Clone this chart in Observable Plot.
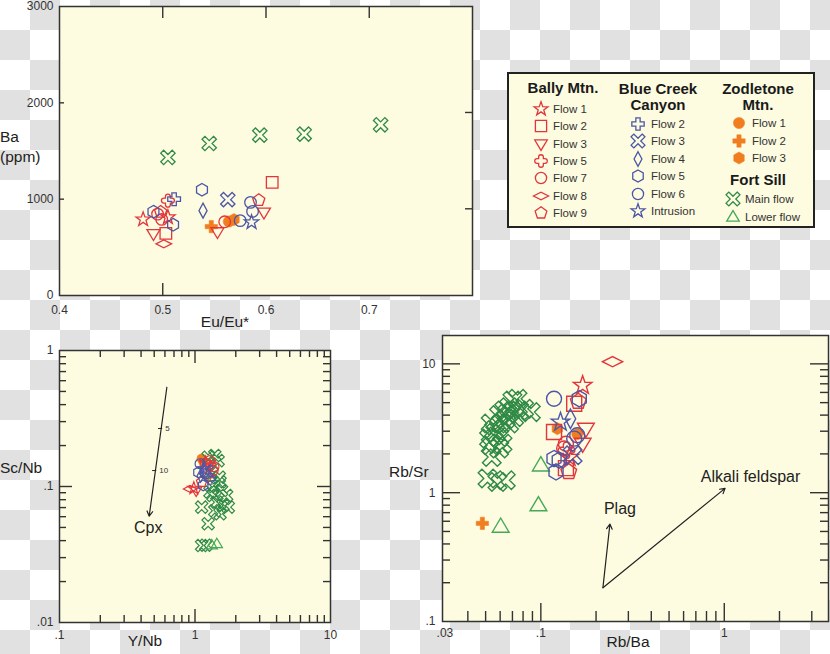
<!DOCTYPE html>
<html><head><meta charset="utf-8">
<script src="https://cdn.jsdelivr.net/npm/d3@7"></script>
<script src="https://cdn.jsdelivr.net/npm/@observablehq/plot@0.6"></script>
<style>
html,body{margin:0;padding:0;}
body{width:830px;height:654px;position:relative;overflow:hidden;font-family:"Liberation Sans",Arial,sans-serif;
background-color:#fff;
background-image:conic-gradient(#e1e1e1 25%, #ffffff 0 50%, #e1e1e1 0 75%, #ffffff 0);
background-size:60px 60px;}
.abs{position:absolute;}
.t{position:absolute;white-space:nowrap;color:#222;font-size:15.5px;line-height:18px;}
.c{transform:translate(-50%,-50%);}
.lh{position:absolute;white-space:nowrap;font-weight:bold;font-size:15px;line-height:15.5px;color:#1a1a1a;text-align:center;transform:translate(-50%,-50%);}
.ll{position:absolute;white-space:nowrap;font-size:11.5px;color:#333;transform:translateY(-50%);}
</style></head>
<body>
<script>
// ---------- groups / legend ----------
const groups      = ["B1","B2","B3","B5","B7","B8","B9","C2","C3","C4","C5","C6","CI","Z1","Z2","Z3","FM","FL"];
const groupLabels = ["Flow 1","Flow 2","Flow 3","Flow 5","Flow 7","Flow 8","Flow 9","Flow 2","Flow 3","Flow 4","Flow 5","Flow 6","Intrusion","Flow 1","Flow 2","Flow 3","Main flow","Lower flow"];
const groupColors = ["#e2363c","#e2363c","#e2363c","#e2363c","#e2363c","#e2363c","#e2363c",
                     "#4b57a6","#4b57a6","#4b57a6","#4b57a6","#4b57a6","#4b57a6",
                     "#f07d1e","#f07d1e","#f07d1e","#2f8a46","#44aa55"];
const groupShapes = ["star","square","triDown","clover","circle","diamondWide","pentagon",
                     "plus","xcross","diamondTall","hexagon","circle","star",
                     "circle","plus","hexagon","xcross","triUp"];
const filledGroups = ["Z1","Z2","Z3"];
const legendTitles = ["Bally Mtn.", "Blue Creek\nCanyon", "Zodletone\nMtn.", "Fort Sill"];

// ---------- panel 1: Eu/Eu* vs Ba (ppm) ----------
const euDomain = [0.4,0.8];
const baDomain = [0,3000];
const euTicks = [0.4,0.5,0.6,0.7];
const baTicks = [0,1000,2000,3000];
const euBa = [
  ["FM",0.505,1433],["FM",0.545,1578],["FM",0.594,1665],["FM",0.637,1675],["FM",0.711,1772],
  ["B2",0.606,1174],["B2",0.503,645],
  ["B1",0.481,790],["B1",0.505,812],
  ["B3",0.491,640],["B3",0.553,660],["B3",0.598,863],
  ["B5",0.505,985],
  ["B7",0.499,790],["B7",0.495,845],["B7",0.560,765],
  ["B8",0.501,536],
  ["B9",0.593,990],["B9",0.498,868],
  ["C2",0.511,1000],
  ["C3",0.563,995],
  ["C4",0.539,881],
  ["C5",0.538,1098],["C5",0.491,870],["C5",0.510,735],
  ["C6",0.585,967],["C6",0.587,873],["C6",0.575,777],
  ["CI",0.586,760],
  ["Z1",0.564,768],["Z3",0.569,788],["Z2",0.547,715]
];
const p1TopTicks = [0.5,0.6,0.7];
const p1BottomTicks = [0.5];
const p1LeftTicks = [1000,2000];
const p1RightTicks = [900,1900];

// ---------- panel 2: Y/Nb vs Sc/Nb ----------
const ynbDomain = [0.1,10];
const scnbDomain = [0.01,1];
const ynbTicks = [0.1,1,10];
const ynbTickLabels = [".1","1","10"];
const scnbTicks = [0.01,0.1,1];
const scnbTickLabels = [".01",".1","1"];
const ynbScnb = [
  ["FM",1.40,0.169],["FM",1.25,0.164],["FM",1.48,0.155],["FM",1.51,0.117],["FM",1.53,0.108],
  ["FM",1.57,0.0935],["FM",1.71,0.0859],["FM",1.36,0.0859],["FM",1.29,0.091],["FM",1.45,0.0767],
  ["FM",1.61,0.0725],["FM",1.76,0.0705],["FM",1.53,0.063],["FM",1.40,0.0664],["FM",1.12,0.0705],
  ["FM",1.25,0.0532],["FM",1.12,0.0368],["FM",1.20,0.037],["FM",1.38,0.100],["FM",1.33,0.125],
  ["FL",1.33,0.037],["FL",1.45,0.0378],
  ["B8",0.92,0.096],
  ["B1",0.98,0.097],["B1",1.20,0.150],
  ["B3",1.02,0.093],["B3",1.30,0.140],
  ["B7",1.36,0.131],["B7",1.29,0.155],["B7",1.38,0.140],
  ["B2",1.19,0.147],
  ["B9",1.12,0.108],
  ["B5",1.25,0.120],
  ["C5",1.06,0.127],["C5",1.15,0.102],
  ["C6",1.09,0.147],["C6",1.19,0.124],
  ["C2",1.29,0.114],
  ["C3",1.22,0.130],
  ["C4",1.10,0.120],
  ["CI",1.15,0.135],
  ["Z1",1.12,0.160],["Z3",1.16,0.153]
];
const p2MinorX = [0.2,0.3,0.4,0.5,0.6,0.7,0.8,0.9,2,3,4,5,6,7,8,9];
const p2MajorX = [1];
const p2MinorY = [0.02,0.03,0.04,0.05,0.06,0.07,0.08,0.09,0.2,0.3,0.4,0.5,0.6,0.7,0.8,0.9];
const p2MajorY = [0.1];
const cpxArrow = [{x1:0.620, y1:0.537, x2:0.459, y2:0.0605}];
const cpxMarks = [{x:0.553, y:0.267, label:"5"},{x:0.500, y:0.131, label:"10"}];
const cpxLabel = [{x:0.451, y:0.050, label:"Cpx"}];

// ---------- panel 3: Rb/Ba vs Rb/Sr ----------
const rbbaDomain = [0.0291,3.7];
const rbsrDomain = [0.1,16.6];
const rbbaTicks = [0.03,0.1,1];
const rbbaTickLabels = [".03",".1","1"];
const rbsrTicks = [0.1,1,10];
const rbsrTickLabels = [".1","1","10"];
const rbbaRbsr = [
  ["FM",0.0746,5.36],["FM",0.0882,4.22],["FM",0.0810,4.48],["FM",0.0671,4.61],["FM",0.0631,4.35],
  ["FM",0.0715,3.86],["FM",0.0644,3.75],["FM",0.0592,4.00],["FM",0.0605,3.44],["FM",0.0533,3.44],
  ["FM",0.0556,3.05],["FM",0.0522,2.63],["FM",0.0592,2.70],["FM",0.0533,2.33],["FM",0.0592,2.20],
  ["FM",0.0540,1.89],["FM",0.0671,3.44],["FM",0.0761,4.35],["FM",0.0700,5.20],["FM",0.0618,2.40],
  ["FM",0.0565,2.90],["FM",0.0655,4.10],["FM",0.0512,1.29],["FM",0.0580,1.21],["FM",0.0644,1.25],
  ["FL",0.100,1.63],["FL",0.097,0.80],["FL",0.0604,0.545],
  ["B8",0.246,10.4],
  ["B1",0.169,6.8],["B1",0.143,1.88],
  ["B2",0.152,4.9],["B2",0.118,2.96],["B2",0.137,1.55],
  ["B3",0.176,3.14],["B3",0.169,2.40],
  ["B5",0.138,2.13],
  ["B7",0.137,2.40],["B7",0.134,2.20],
  ["B9",0.142,1.45],["B9",0.160,5.1],
  ["C6",0.118,5.36],["C6",0.158,2.79],["C6",0.152,2.63],
  ["C5",0.162,5.36],["C5",0.118,1.84],["C5",0.126,1.79],["C5",0.121,1.45],
  ["CI",0.128,3.53],
  ["C4",0.145,3.75],
  ["C3",0.149,1.95],
  ["Z2",0.048,0.578],["Z3",0.123,3.14],["Z1",0.158,2.85]
];
const p3MinorX = [0.04,0.05,0.06,0.07,0.08,0.09,0.2,0.3,0.4,0.5,0.6,0.7,0.8,0.9,2,3];
const p3MajorX = [0.1,1];
const p3MinorY = [0.2,0.3,0.4,0.5,0.6,0.7,0.8,0.9,2,3,4,5,6,7,8,9];
const p3MajorY = [1,10];
const feldArrows = [{x1:0.218, y1:0.183, x2:0.238, y2:0.571},{x1:0.218, y1:0.183, x2:1.01, y2:1.08}];
const feldLabels = [{x:0.27, y:0.745, label:"Plag"},{x:1.39, y:1.32, label:"Alkali feldspar"}];

// ---------- symbols ----------
function poly(pts){ return {draw(ctx,size){ const r=Math.sqrt(size/Math.PI);
  ctx.moveTo(pts[0][0]*r,pts[0][1]*r); for(let i=1;i<pts.length;i++) ctx.lineTo(pts[i][0]*r,pts[i][1]*r); ctx.closePath(); }}; }
function regular(n,R,rot){ const p=[]; for(let k=0;k<n;k++){const a=rot+2*Math.PI*k/n; p.push([R*Math.cos(a),R*Math.sin(a)]);} return p; }
function starPts(R,ri){ const p=[]; for(let k=0;k<10;k++){const a=-Math.PI/2+Math.PI*k/5; const rr=k%2?ri:R; p.push([rr*Math.cos(a),rr*Math.sin(a)]);} return p; }
function plusPts(a,R){ return [[-a,-R],[a,-R],[a,-a],[R,-a],[R,a],[a,a],[a,R],[-a,R],[-a,a],[-R,a],[-R,-a],[-a,-a]]; }
function rot45(pts){ const c=Math.SQRT1_2; return pts.map(([x,y])=>[c*(x-y),c*(x+y)]); }
const SYM = {
  circle:{draw(ctx,size){const r=Math.sqrt(size/Math.PI); ctx.moveTo(r,0); ctx.arc(0,0,r,0,2*Math.PI);}},
  square:poly([[-1,-1],[1,-1],[1,1],[-1,1]]),
  triDown:poly([[-1.12,-0.72],[1.12,-0.72],[0,1.15]]),
  triUp:poly([[0,-1.15],[1.12,0.75],[-1.12,0.75]]),
  star:poly(starPts(1.3,0.52)),
  pentagon:poly(regular(5,1.1,-Math.PI/2)),
  hexagon:poly(regular(6,1.08,-Math.PI/2)),
  diamondWide:poly([[-1.35,0],[0,-0.68],[1.35,0],[0,0.68]]),
  diamondTall:poly([[0,-1.3],[0.7,0],[0,1.3],[-0.7,0]]),
  plus:poly(plusPts(0.38,1.1)),
  xcross:poly(rot45(plusPts(0.35,1.4))),
  clover:{draw(ctx,size){const r=Math.sqrt(size/Math.PI); const a=0.42*r, R=1.12*r, P=Math.PI;
    ctx.moveTo(-a,-a); ctx.lineTo(-a,-R+a); ctx.arc(0,-R+a,a,P,2*P); ctx.lineTo(a,-a);
    ctx.lineTo(R-a,-a); ctx.arc(R-a,0,a,-P/2,P/2); ctx.lineTo(a,a);
    ctx.lineTo(a,R-a); ctx.arc(0,R-a,a,0,P); ctx.lineTo(-a,a);
    ctx.lineTo(-R+a,a); ctx.arc(-R+a,0,a,P/2,3*P/2); ctx.closePath();}}
};

const BG = "#fdfbe0", FRAME = "#333";
const pStyle = {background:"transparent", fontFamily:'"Liberation Sans", Arial, sans-serif', fontSize:"12px", color:"#333", overflow:"visible"};
const symbolScale = {domain:groups, range:groupShapes.map(s=>SYM[s])};
const colorScale = {domain:groups, range:groupColors};
const isFilled = d => filledGroups.includes(d[0]);

function pointMarks(data, r, sw, rf){
  return [
    Plot.dot(data.filter(isFilled), {x:d=>d[1], y:d=>d[2], symbol:d=>d[0], fill:d=>d[0], stroke:d=>d[0], strokeWidth:0.5, r:rf}),
    Plot.dot(data.filter(d=>!isFilled(d)), {x:d=>d[1], y:d=>d[2], symbol:d=>d[0], stroke:d=>d[0], fill:"none", r, strokeWidth:sw})
  ];
}
// short inward ticks: full-frame rules shrunk by insets; inner = inner frame size (px) across the rule
function edgeTicks(vals, side, len, inner){
  const o = {stroke:"#333333", strokeWidth:1.4};
  if (side==="top")    return Plot.ruleX(vals, {...o, x:d=>d, insetBottom:inner-len});
  if (side==="bottom") return Plot.ruleX(vals, {...o, x:d=>d, insetTop:inner-len});
  if (side==="left")   return Plot.ruleY(vals, {...o, y:d=>d, insetRight:inner-len});
  return Plot.ruleY(vals, {...o, y:d=>d, insetLeft:inner-len});
}
function place(node, left, top, z){ const div=document.createElement("div"); div.className="abs"; div.style.left=left+"px"; div.style.top=top+"px"; if(z) div.style.zIndex=z; div.appendChild(node); document.body.appendChild(div); }
function text(str, left, top, cls){ const d=document.createElement("div"); d.className=cls; d.style.left=left+"px"; d.style.top=top+"px"; d.textContent=str; document.body.appendChild(d); return d; }
// transparent overlay plot with the same scales, carrying only the edge ticks
function tickOverlay(dims, xScale, yScale, tickMarks){
  return Plot.plot({...dims, style:{background:"transparent", overflow:"visible"},
    x:{...xScale, axis:null}, y:{...yScale, axis:null}, marks:tickMarks});
}

// ---------- panel 1 ----------
const P1 = {width:480, height:330, marginLeft:59, marginRight:8, marginTop:6, marginBottom:35};
const p1W = P1.width-P1.marginLeft-P1.marginRight, p1H = P1.height-P1.marginTop-P1.marginBottom;
const p1 = Plot.plot({
  ...P1, style:pStyle,
  x:{domain:euDomain, ticks:euTicks, tickSize:0, tickPadding:10, tickFormat:d=>d.toFixed(1), label:null},
  y:{domain:baDomain, ticks:baTicks, tickSize:0, tickPadding:6, tickFormat:d=>String(d), label:null},
  symbol:symbolScale, color:colorScale,
  marks:[
    Plot.frame({fill:BG, stroke:"none"}),
    ...pointMarks(euBa, 5.8, 1.3, 5.6),
    Plot.frame({stroke:FRAME, strokeWidth:1.5, fill:"none"})
  ]
});
place(p1, 0, 0);
place(tickOverlay(P1, {domain:euDomain}, {domain:baDomain}, [
  edgeTicks(p1TopTicks,"top",12,p1H),
  edgeTicks(p1BottomTicks,"bottom",12,p1H),
  edgeTicks(p1LeftTicks,"left",5,p1W),
  edgeTicks(p1RightTicks,"right",7,p1W)
]), 0, 0, 5);

// ---------- panel 2 ----------
const P2 = {width:345, height:319, marginLeft:59, marginRight:15, marginTop:15, marginBottom:32};
const p2W = P2.width-P2.marginLeft-P2.marginRight, p2H = P2.height-P2.marginTop-P2.marginBottom;
const p2 = Plot.plot({
  ...P2, style:pStyle,
  x:{type:"log", domain:ynbDomain, ticks:ynbTicks, tickSize:0, tickPadding:8, tickFormat:d=>ynbTickLabels[ynbTicks.indexOf(d)], label:null},
  y:{type:"log", domain:scnbDomain, ticks:scnbTicks, tickSize:0, tickPadding:6, tickFormat:d=>scnbTickLabels[scnbTicks.indexOf(d)], label:null},
  symbol:symbolScale, color:colorScale,
  marks:[
    Plot.frame({fill:BG, stroke:"none"}),
    Plot.arrow(cpxArrow, {x1:"x1", y1:"y1", x2:"x2", y2:"y2", stroke:"#222", strokeWidth:1.2, headLength:7}),
    Plot.link(cpxMarks, {x1:d=>d.x*0.965, x2:d=>d.x*1.035, y1:"y", y2:"y", stroke:"#222", strokeWidth:1}),
    Plot.text(cpxMarks, {x:"x", y:"y", text:"label", dx:5, textAnchor:"start", fontSize:8, fill:"#333"}),
    Plot.text(cpxLabel, {x:"x", y:"y", text:"label", fontSize:16, fill:"#222"}),
    ...pointMarks(ynbScnb, 5, 1.2, 4.8),
    Plot.frame({stroke:FRAME, strokeWidth:1.5, fill:"none"})
  ]
});
place(p2, 0, 335);
place(tickOverlay(P2, {type:"log", domain:ynbDomain}, {type:"log", domain:scnbDomain}, [
  edgeTicks(p2MinorX,"top",7,p2H), edgeTicks(p2MajorX,"top",13,p2H),
  edgeTicks(p2MinorX,"bottom",7,p2H), edgeTicks(p2MajorX,"bottom",13,p2H),
  edgeTicks(p2MinorY,"left",7,p2W), edgeTicks(p2MajorY,"left",13,p2W),
  edgeTicks(p2MinorY,"right",7,p2W), edgeTicks(p2MajorY,"right",13,p2W)
]), 0, 335, 5);

// ---------- panel 3 ----------
const P3 = {width:450, height:329, marginLeft:62, marginRight:2, marginTop:10, marginBottom:33};
const p3W = P3.width-P3.marginLeft-P3.marginRight, p3H = P3.height-P3.marginTop-P3.marginBottom;
const p3 = Plot.plot({
  ...P3, style:pStyle,
  x:{type:"log", domain:rbbaDomain, ticks:rbbaTicks, tickSize:0, tickPadding:7, tickFormat:d=>rbbaTickLabels[rbbaTicks.indexOf(d)], label:null},
  y:{type:"log", domain:rbsrDomain, ticks:rbsrTicks, tickSize:0, tickPadding:7, tickFormat:d=>rbsrTickLabels[rbsrTicks.indexOf(d)], label:null},
  symbol:symbolScale, color:colorScale,
  marks:[
    Plot.frame({fill:BG, stroke:"none"}),
    Plot.arrow(feldArrows, {x1:"x1", y1:"y1", x2:"x2", y2:"y2", stroke:"#222", strokeWidth:1.2, headLength:7}),
    Plot.text(feldLabels, {x:"x", y:"y", text:"label", fontSize:16, fill:"#222"}),
    ...pointMarks(rbbaRbsr, 7.5, 1.4, 5.6),
    Plot.frame({stroke:FRAME, strokeWidth:1.5, fill:"none"})
  ]
});
place(p3, 380, 325);
place(tickOverlay(P3, {type:"log", domain:rbbaDomain}, {type:"log", domain:rbsrDomain}, [
  edgeTicks(p3MinorX,"bottom",10,p3H), edgeTicks(p3MajorX,"bottom",18,p3H),
  edgeTicks(p3MinorY,"left",8,p3W), edgeTicks(p3MajorY,"left",18,p3W),
  edgeTicks(p3MinorY,"right",8,p3W), edgeTicks(p3MajorY,"right",18,p3W)
]), 380, 325, 5);

// ---------- axis titles ----------
text("Ba", 0, 128, "t");
text("(ppm)", 0, 148, "t");
text("Eu/Eu*", 225, 322, "t c");
text("Sc/Nb", 0, 459, "t");
text("Y/Nb", 145, 641, "t c");
text("Rb/Sr", 389, 463, "t");
text("Rb/Ba", 628, 642, "t c");

// ---------- legend ----------
const box = document.createElement("div");
box.className="abs";
Object.assign(box.style,{left:"507px",top:"72px",width:"308px",height:"156px",boxSizing:"border-box",border:"2px solid #222",background:BG,zIndex:6});
document.body.appendChild(box);

const legendCols = [
  {title:legendTitles[0], cx:563, ty:88, symX:541, labX:553, y0:109, step:17.35, groups:["B1","B2","B3","B5","B7","B8","B9"]},
  {title:legendTitles[1], cx:658, ty:96, symX:638, labX:651, y0:124, step:17.4, groups:["C2","C3","C4","C5","C6","CI"]},
  {title:legendTitles[2], cx:758, ty:96, symX:739, labX:752, y0:123, step:17.5, groups:["Z1","Z2","Z3"]},
  {title:legendTitles[3], cx:758, ty:180, symX:733, labX:745, y0:199, step:18, groups:["FM","FL"]}
];
const NS="http://www.w3.org/2000/svg";
for (const col of legendCols){
  const h = text("", col.cx, col.ty, "lh");
  h.style.zIndex = 7;
  h.innerHTML = col.title.replace("\n","<br>");
  col.groups.forEach((g,i)=>{
    const y = col.y0 + i*col.step;
    const gi = groups.indexOf(g);
    const svg = document.createElementNS(NS,"svg");
    svg.setAttribute("width",20); svg.setAttribute("height",20);
    svg.setAttribute("viewBox","-10 -10 20 20");
    svg.style.position="absolute"; svg.style.left=(col.symX-10)+"px"; svg.style.top=(y-10)+"px"; svg.style.overflow="visible"; svg.style.zIndex=7;
    const p = document.createElementNS(NS,"path");
    p.setAttribute("d", d3.symbol(SYM[groupShapes[gi]], Math.PI*5.6*5.6)());
    const filled = filledGroups.includes(g);
    p.setAttribute("fill", filled?groupColors[gi]:"none");
    p.setAttribute("stroke", groupColors[gi]);
    p.setAttribute("stroke-width", filled?0.5:1.3);
    svg.appendChild(p);
    document.body.appendChild(svg);
    const l = text(groupLabels[gi], col.labX, y, "ll");
    l.style.zIndex = 7;
  });
}
</script>
</body></html>
